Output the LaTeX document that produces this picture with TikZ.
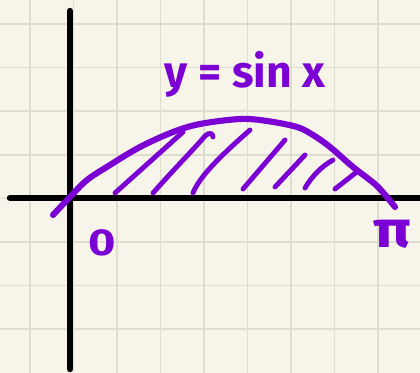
\documentclass[tikz,border=0pt]{standalone}
\usepackage{fontspec}
\setmainfont{Fira Sans}
\usepackage{xcolor}
\usepackage{tikz}
\usetikzlibrary{positioning}
\definecolor{paper}{HTML}{F7F5EA}
\definecolor{gridline}{HTML}{DFDCD0}
\definecolor{ink}{HTML}{7A00D4}

\begin{document}
\begin{tikzpicture}[x=0.03cm, y=-0.03cm, line cap=round, line join=round,
  axis/.style={black, line width=5.5pt},
  hatch/.style={ink, line width=4.2pt},
  ink label/.style={ink, font=\bfseries\fontsize{#1}{#1}\selectfont, inner sep=0pt}]
% paper with square grid
\fill[paper] (0,0) rectangle (420,373);
\useasboundingbox (0,0) rectangle (420,373);
\foreach \i in {0,...,8}{
  \draw[gridline, line width=1.5pt] (30+\i*43.5,0) -- ++(0,373);
}
\foreach \j in {0,...,7}{
  \draw[gridline, line width=1.5pt] (0,24+\j*43.6) -- ++(420,0);
}
% axes
\draw[axis] (10,198) -- (425,198);
\draw[axis] (70,11) -- (70,369);
% y = sin x from 0 to pi
\draw[ink, line width=5.2pt] plot[smooth, tension=0.55] coordinates {
  (53,215) (70,197) (87,180) (110,165) (140,147) (173,132) (200,124)
  (240,119) (267,121) (297,127) (313,135) (330,147) (353,167) (377,186) (395,207)};
% hatching under the arch
\draw[hatch] (115,193) -- (183,132);
\draw[hatch] (153,193) .. controls (175,168) and (195,148) .. (205,136)
  .. controls (209,132) and (213,133) .. (213,137);
\draw[hatch] (193,193) .. controls (200,175) and (225,152) .. (250,130);
\draw[hatch] (243,189) -- (285,140);
\draw[hatch] (275,187) -- (305,155);
\draw[hatch] (305,188) .. controls (312,176) and (322,166) .. (333,160);
\draw[hatch] (335,189) -- (358,171);
% labels
\node[ink label=38] (eq) at (245,74) {y = sin x};
\node[ink label=32, xscale=1.25] (zero) at (102,243) {0};
\node[ink label=44, xscale=1.2] (pi) at (392,234) {π};
\end{tikzpicture}
\end{document}
